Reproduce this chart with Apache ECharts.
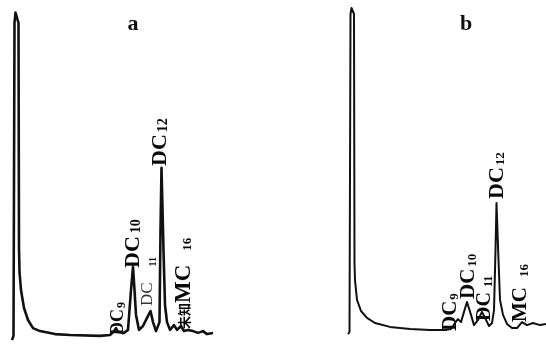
<!DOCTYPE html>
<html>
<head>
<meta charset="utf-8">
<script src="https://cdn.jsdelivr.net/npm/echarts@6/dist/echarts.min.js"></script>
<style>html,body{margin:0;padding:0;background:#fff}#c{width:546px;height:346px}</style>
</head>
<body>
<div id="c"></div>
<script>
// Chromatogram a: retention time (arbitrary units) and detector response (%)
const timeA = [0.2,0.35,0.45,0.55,0.75,0.85,0.9,0.95,1.1,1.4,1.8,2.3,3.0,4.5,6.0,9.0,10.0,10.4,10.6,10.8,11.4,11.8,12.1,12.3,12.45,12.6,12.9,13.3,13.7,14.05,14.3,14.6,14.95,15.05,15.15,15.25,15.35,15.5,15.7,16.0,16.4,16.7,17.1,17.4,17.8,18.3,18.8,19.3,19.7,20.3];
const respA = [-0.7,0.7,105,108.5,108.5,105,30,22,16,10,6,3.3,2.3,1.3,1.0,0.7,1.0,2.3,3.3,2.0,1.7,2.7,16,23.7,16,7.7,2.7,4,6.7,9,5.3,2.3,5.3,36,56.7,56.7,29.3,11,5.3,2.7,4.3,2.7,4,2.3,2.7,2.3,1.7,2.3,1.3,1.7];
// Chromatogram b
const timeB = [0.8,0.95,1.05,1.15,1.3,1.4,1.45,1.5,1.7,2.1,2.7,3.5,5.0,7.0,9.0,10.5,11.1,11.5,11.8,12.1,12.4,12.7,12.9,13.1,13.4,13.8,14.2,14.5,14.9,15.2,15.4,15.55,15.65,15.75,15.85,16.0,16.3,16.7,17.2,17.7,18.2,18.7,19.3,20.0,20.6];
const respB = [1.3,2,108,110,110,108,25,19.3,12.7,9,6.7,5,3.7,3,2.7,2.7,3,5,6.3,5.3,8.7,12,11.7,7.7,4.3,6,8.7,6.7,4,5,9.3,29.3,45,45,26,12.7,7.7,4.7,3.3,3.3,5.3,4.3,5,4.3,4.7];
// Peak labels: [prefix, main text, subscript]
const labelsA = [["","DC","9"],["","DC","10"],["","DC","11"],["","DC","12"],["未知","MC","16"]];
const labelsB = [["","DC","9"],["","DC","10"],["","DC","11"],["","DC","12"],["","MC","16"]];
const panelTitles = ["a","b"];

const zip = (t, v) => t.map((x, i) => [x, v[i]]);
const chart = echarts.init(document.getElementById('c'), null, {renderer: 'canvas'});
const FONT = '"Liberation Serif", "DejaVu Serif", serif';
const CJK = '"Noto Sans CJK SC", sans-serif';
const ax = (idx, max) => ({gridIndex: idx, type: 'value', min: 0, max: max, show: false});

// label layout: x centre, bottom y, main font size, sub font size, gap before sub, light?
const posA = [[118,335,18,12,1,0],[133,268,22,14,3,0],[148,306,17,10,16,1],[160,166,22,14,2,0],[184,329,23,13,14,0]];
const posB = [[451,331,21,13,1,0],[469,299,21,13,2,0],[485,321,20,12,5,0],[497,199,22,13,2,0],[521,322,21,13,10,0]];

function lab(txt, p) {
  const light = p[5] === 1;
  const col = light ? '#333' : '#0a0a0a';
  return {
    type: 'text', x: p[0], y: p[1], rotation: Math.PI / 2,
    style: {
      text: (txt[0] ? '{c|' + txt[0] + '}' : '') + '{m|' + txt[1] + '}{s|' + txt[2] + '}',
      textAlign: 'left', textVerticalAlign: 'middle', verticalAlign: 'middle',
      fill: col,
      rich: {
        c: {fontFamily: CJK, fontSize: 13, fontWeight: 'bold', fill: col, lineHeight: 20, verticalAlign: 'middle'},
        m: {fontFamily: FONT, fontSize: p[2], fill: col, lineHeight: 20, verticalAlign: 'middle', fontWeight: light ? 'normal' : 'bold'},
        s: {fontFamily: FONT, fontSize: p[3], fontWeight: 'bold', fill: '#0a0a0a', lineHeight: 12, verticalAlign: 'bottom', padding: [0,0,0,p[4]]}
      }
    }
  };
}

const graphics = [];
labelsA.forEach((l, i) => graphics.push(lab(l, posA[i])));
labelsB.forEach((l, i) => graphics.push(lab(l, posB[i])));
graphics.push({type: 'text', x: 133, y: 24, style: {text: panelTitles[0], fontFamily: FONT, fontSize: 22, fontWeight: 'bold', fill: '#111', textAlign: 'center', textVerticalAlign: 'middle', verticalAlign: 'middle'}});
graphics.push({type: 'text', x: 466, y: 24, style: {text: panelTitles[1], fontFamily: FONT, fontSize: 22, fontWeight: 'bold', fill: '#111', textAlign: 'center', textVerticalAlign: 'middle', verticalAlign: 'middle'}});

chart.setOption({
  animation: false,
  backgroundColor: '#fff',
  grid: [
    {left: 10, top: 8, width: 210, height: 330},
    {left: 340, top: 8, width: 206, height: 330}
  ],
  xAxis: [ax(0, 21), ax(1, 20.6)],
  yAxis: [ax(0, 110), ax(1, 110)],
  series: [
    {type: 'line', xAxisIndex: 0, yAxisIndex: 0, data: zip(timeA, respA), showSymbol: false, lineStyle: {color: '#111', width: 2.6, join: 'round'}, clip: false},
    {type: 'line', xAxisIndex: 1, yAxisIndex: 1, data: zip(timeB, respB), showSymbol: false, lineStyle: {color: '#111', width: 2, join: 'round'}, clip: false}
  ],
  graphic: graphics
});
</script>
</body>
</html>
